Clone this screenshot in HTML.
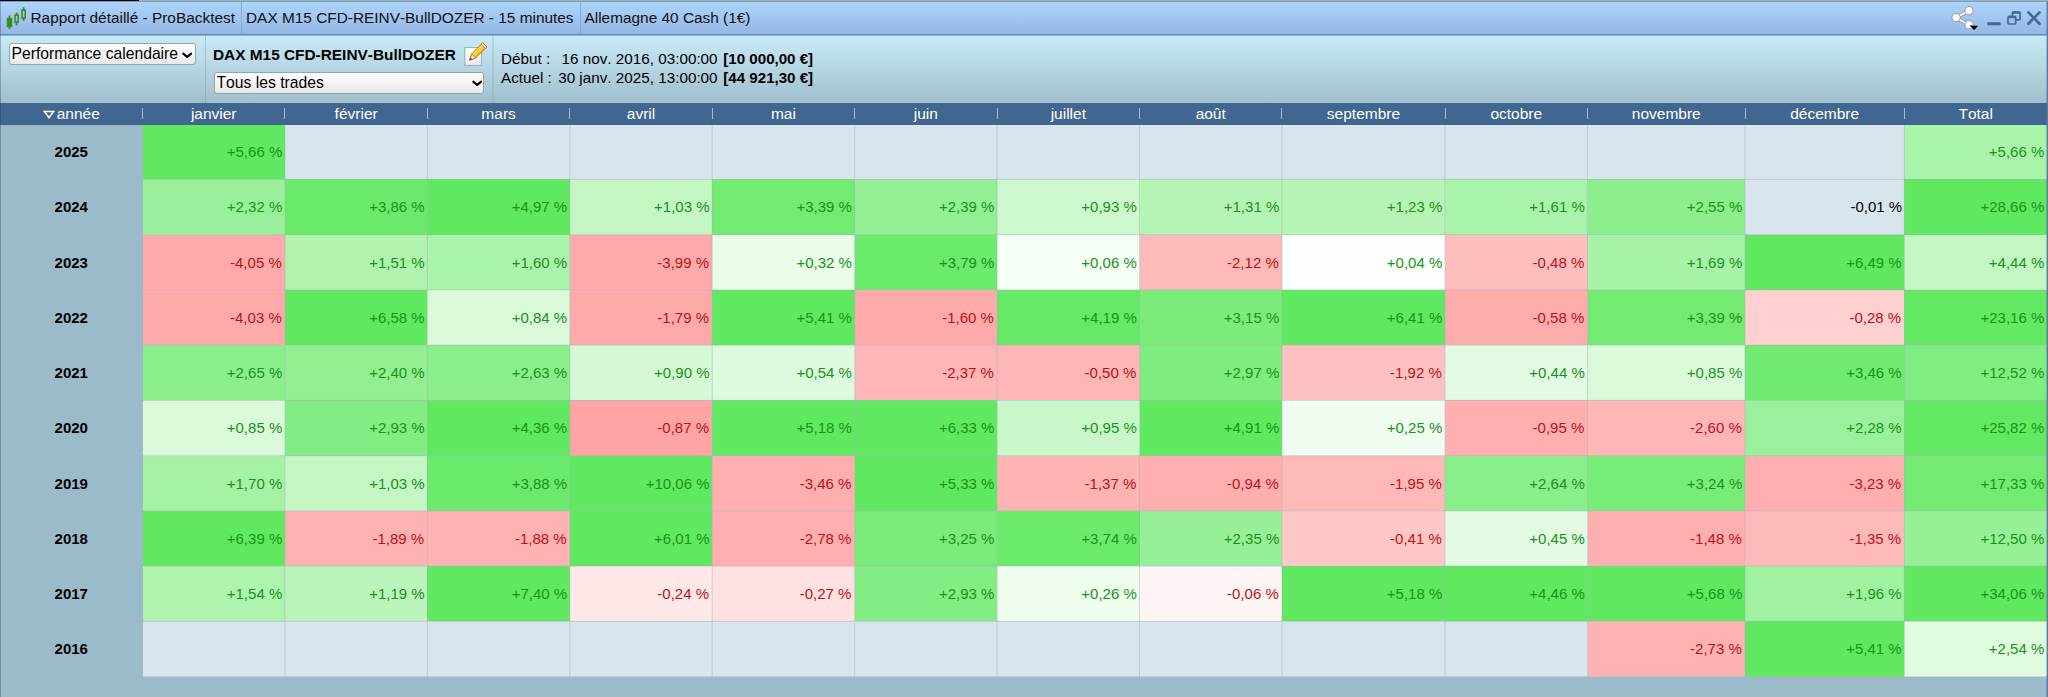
<!DOCTYPE html>
<html lang="fr">
<head>
<meta charset="utf-8">
<title>Rapport détaillé - ProBacktest</title>
<style>
html,body{margin:0;padding:0}
body{width:2048px;height:697px;overflow:hidden;position:relative;background:#9cbbca;font-family:"Liberation Sans",sans-serif;color:#000;font-kerning:none}
.abs{position:absolute}
#topl{left:0;top:0;width:2048px;height:2px;background:linear-gradient(#98b5be 0 55%,#7f9fb4 55% 100%)}
#topb{left:0;top:0;width:139px;height:2px;background:linear-gradient(#000 0 50%,#7c99b8 50% 100%)}
#title{left:0;top:2px;width:2048px;height:32px;background:linear-gradient(#aed3fb,#94b8e4);border-bottom:1px solid #6088bb}
#title .t{position:absolute;top:-1px;height:33px;line-height:34px;font-size:15.4px;white-space:nowrap;color:#101010}
#title .sep{position:absolute;top:0;width:1px;height:32px;background:#86a8d6}
#tool{left:0;top:35px;width:2048px;height:68px;background:linear-gradient(#c9ebf7,#a0bfcc);box-shadow:inset 0 1px 0 rgba(95,135,185,.5)}
#tool .sep{position:absolute;top:0;width:1px;height:68px;background:rgba(120,160,180,.45)}
select{position:absolute;box-sizing:border-box;font-family:"Liberation Sans",sans-serif;font-size:15.7px;font-kerning:none;height:22px;line-height:20px;margin:0;padding:0 0 0 1.5px;color:#000;-webkit-appearance:none;appearance:none;border:1px solid #8fa6b3;border-radius:3px;background:linear-gradient(#ffffff,#e8e8e8);outline:none}
.chev{position:absolute;pointer-events:none}
#hdr{left:0;top:102.5px;width:2048px;height:22px;background:#41668f;z-index:5}
#hdr .h{position:absolute;top:0;height:22px;line-height:21px;font-size:15.5px;color:#fff;text-align:center;white-space:nowrap}
#hdr .hs{position:absolute;top:5.5px;width:1px;height:11px;background:#a9bbd0}
.yr{position:absolute;left:0;width:142.5px;font-size:15px;font-weight:bold;text-align:center;box-sizing:border-box}
.c{position:absolute;box-sizing:border-box;font-size:15px;text-align:right;padding-right:2.3px;white-space:nowrap}
.vl,.hl{position:absolute;background:rgb(168,181,188);z-index:3}
.vl{width:1px}.hl{height:1px;left:0;width:2047px}
.p{color:#189418;padding-right:2.7px}.n{color:#bd1212;padding-right:3.2px}.z{color:#000}
#lb{left:0;top:2px;width:1px;height:695px;background:rgba(30,50,60,.3);z-index:6}
#rb{left:2046px;top:2px;width:2px;height:695px;background:linear-gradient(to right,rgba(85,115,150,.4) 0 50%,#5b7c9c 50% 100%);z-index:6}
</style>
</head>
<body>
<div class="abs" id="topl"></div><div class="abs" id="topb"></div>
<div class="abs" id="title">
<svg class="abs" style="left:5px;top:3px" width="24" height="26" viewBox="0 0 24 26">
<g fill="none" stroke="#3a8c1f" stroke-width="1.6">
<path d="M4.5 10.5v13.5" stroke-width="1.8"/><rect x="2.6" y="13.6" width="3.8" height="7.8" fill="#3a8c1f"/>
<path d="M11.6 7.5v3M11.6 17v3.2" stroke-width="1.8"/><rect x="10" y="10.2" width="3.2" height="6.8"/>
<path d="M18.6 2.2v3M18.6 12.8v3.2" stroke-width="1.8"/><rect x="17" y="5.2" width="3.2" height="7.8"/>
</g></svg>
<div class="t" style="left:30.5px">Rapport détaillé - ProBacktest</div>
<div class="sep" style="left:241px"></div>
<div class="t" style="left:246px">DAX M15 CFD-REINV-BullDOZER - 15 minutes</div>
<div class="sep" style="left:580px"></div>
<div class="t" style="left:584.5px">Allemagne 40 Cash (1€)</div>
<svg class="abs" style="left:1950px;top:2px" width="94" height="30" viewBox="0 0 94 30">
<g stroke="#8d9299" stroke-width="3.6" fill="none" stroke-linecap="round"><path d="M19 6.6L6.1 13.55L19 20.8"/></g>
<g stroke="#fff" stroke-width="2" fill="none"><path d="M19 6.6L6.1 13.55L19 20.8"/></g>
<g fill="#fff" stroke="#8d9299" stroke-width="0.9"><circle cx="19" cy="6.6" r="4.15"/><circle cx="6.1" cy="13.55" r="4.15"/><circle cx="19" cy="20.8" r="4.15"/></g>
<path d="M19.6 21.5h9l-4.5 4.7z" fill="#000" stroke="#fff" stroke-width="1" stroke-opacity=".85" stroke-linejoin="round" paint-order="stroke"/>
<g stroke="#44689b" fill="none"><path d="M38.5 19.8h10.9" stroke-width="3" stroke-linecap="round"/>
<rect x="62.4" y="8.2" width="7.7" height="7.6" rx="1" stroke-width="1.7"/><path d="M62.4 8.6h7.7" stroke-width="2.4"/>
<rect x="58" y="12.5" width="7.7" height="7.5" rx="1" stroke-width="1.7" fill="#9dc0ea"/><path d="M58 12.9h7.7" stroke-width="2.4"/>
<path d="M78.4 8.4L89.5 19.8M89.5 8.4L78.4 19.8" stroke-width="2.7" stroke-linecap="round"/></g>
</svg>
</div>
<div class="abs" id="tool">
<select style="left:9px;top:8px;width:187px"><option>Performance calendaire</option></select>
<svg class="chev" style="left:180px;top:15px" width="14" height="10" viewBox="0 0 14 10"><path d="M3.3 3.6L7.2 7.0L11.1 3.6" fill="none" stroke="#000" stroke-width="2.1" stroke-linecap="round" stroke-linejoin="round"/></svg>
<div class="sep" style="left:205px"></div>
<div class="abs" style="left:213px;top:10px;font-size:15.4px;font-weight:bold;white-space:nowrap;line-height:20px">DAX M15 CFD-REINV-BullDOZER</div>
<svg class="abs" style="left:462px;top:5px" width="28" height="28" viewBox="0 0 28 28">
<defs><linearGradient id="pg" gradientUnits="userSpaceOnUse" x1="13.2" y1="9.7" x2="17.6" y2="14.1"><stop offset="0" stop-color="#fff03a"/><stop offset=".45" stop-color="#ffd91f"/><stop offset="1" stop-color="#ffab2c"/></linearGradient>
<linearGradient id="pp" x1="0" y1="0" x2="0" y2="1"><stop offset="0" stop-color="#ffffff"/><stop offset="1" stop-color="#ececec"/></linearGradient></defs>
<rect x="2.8" y="7.6" width="16.6" height="17.8" fill="url(#pp)" stroke="#93abbb" stroke-width="1"/>
<path d="M7.6 20.2l2.2-6.4L20.8 2.8l4 4L13.8 17.8z" fill="url(#pg)" stroke="#9a6a28" stroke-width="0.9" stroke-linejoin="round"/>
<path d="M7.6 20.2l2.2-6.4 4 4z" fill="#fbe3c4" stroke="#9a6a28" stroke-width="0.7" stroke-linejoin="round"/>
<path d="M7.6 20.2l.9-2.6 1.7 1.7z" fill="#5b3a17"/>
<path d="M20.8 2.8l4 4-1.6 1.6-4-4z" fill="#ffecc8" stroke="#9a6a28" stroke-width="0.7" stroke-linejoin="round"/>
</svg>
<select style="left:214px;top:37px;width:270px"><option>Tous les trades</option></select>
<svg class="chev" style="left:469.5px;top:43px" width="14" height="10" viewBox="0 0 14 10"><path d="M3.3 3.6L7.2 7.0L11.1 3.6" fill="none" stroke="#000" stroke-width="2.1" stroke-linecap="round" stroke-linejoin="round"/></svg>
<div class="sep" style="left:492px;opacity:.55"></div><div class="sep" style="left:493px;opacity:.6"></div>
<div class="abs" style="left:501px;top:14px;font-size:15.25px;line-height:19px;white-space:nowrap">
<div><span style="display:inline-block;width:57px">Début :</span><span style="display:inline-block;width:159.6px;margin-right:1.5px;text-align:right">16 nov. 2016, 03:00:00</span> <b style="font-size:15.1px">[10 000,00 €]</b></div>
<div><span style="display:inline-block;width:57px">Actuel :</span><span style="display:inline-block;width:159.6px;margin-right:1.5px;text-align:right">30 janv. 2025, 13:00:00</span> <b style="font-size:15.1px">[44 921,30 €]</b></div>
</div>
</div>
<div class="abs" id="hdr">
<div class="h" style="left:0px;width:142.5px"><svg width="12" height="9" viewBox="0 0 12 9" style="vertical-align:0px;margin-right:2px"><path d="M1.5 1.5h9L6 7.6z" fill="none" stroke="#fff" stroke-width="1.6" stroke-linejoin="miter"/></svg>année</div>
<div class="hs" style="left:142px"></div>
<div class="h" style="left:142.5px;width:142.43px">janvier</div>
<div class="hs" style="left:284px"></div>
<div class="h" style="left:284.93px;width:142.43px">février</div>
<div class="hs" style="left:427px"></div>
<div class="h" style="left:427.36px;width:142.42999999999995px">mars</div>
<div class="hs" style="left:569px"></div>
<div class="h" style="left:569.79px;width:142.43000000000006px">avril</div>
<div class="hs" style="left:712px"></div>
<div class="h" style="left:712.22px;width:142.42999999999995px">mai</div>
<div class="hs" style="left:854px"></div>
<div class="h" style="left:854.65px;width:142.43000000000006px">juin</div>
<div class="hs" style="left:997px"></div>
<div class="h" style="left:997.08px;width:142.42999999999995px">juillet</div>
<div class="hs" style="left:1139px"></div>
<div class="h" style="left:1139.51px;width:142.43000000000006px">août</div>
<div class="hs" style="left:1281px"></div>
<div class="h" style="left:1281.94px;width:163.05999999999995px">septembre</div>
<div class="hs" style="left:1445px"></div>
<div class="h" style="left:1445.0px;width:142.5px">octobre</div>
<div class="hs" style="left:1587px"></div>
<div class="h" style="left:1587.5px;width:157.5px">novembre</div>
<div class="hs" style="left:1745px"></div>
<div class="h" style="left:1745.0px;width:159.4000000000001px">décembre</div>
<div class="hs" style="left:1904px"></div>
<div class="h" style="left:1904.4px;width:142.5999999999999px">Total</div>
</div>
<div class="yr" style="top:124.15px;height:55.25px;line-height:55.25px">2025</div>
<div class="yr" style="top:179.4px;height:55.25px;line-height:55.25px">2024</div>
<div class="yr" style="top:234.65px;height:55.25px;line-height:55.25px">2023</div>
<div class="yr" style="top:289.9px;height:55.25px;line-height:55.25px">2022</div>
<div class="yr" style="top:345.15px;height:55.25px;line-height:55.25px">2021</div>
<div class="yr" style="top:400.4px;height:55.25px;line-height:55.25px">2020</div>
<div class="yr" style="top:455.65px;height:55.25px;line-height:55.25px">2019</div>
<div class="yr" style="top:510.9px;height:55.25px;line-height:55.25px">2018</div>
<div class="yr" style="top:566.15px;height:55.25px;line-height:55.25px">2017</div>
<div class="yr" style="top:621.4px;height:55.25px;line-height:55.25px">2016</div>
<div class="c p" style="left:142.5px;top:124.15px;width:142.43px;height:55.25px;line-height:55.25px;background:#60e860">+5,66 %</div>
<div class="c " style="left:284.93px;top:124.15px;width:142.43px;height:55.25px;line-height:55.25px;background:#d8e5ed"></div>
<div class="c " style="left:427.36px;top:124.15px;width:142.43px;height:55.25px;line-height:55.25px;background:#d8e5ed"></div>
<div class="c " style="left:569.79px;top:124.15px;width:142.43px;height:55.25px;line-height:55.25px;background:#d8e5ed"></div>
<div class="c " style="left:712.22px;top:124.15px;width:142.43px;height:55.25px;line-height:55.25px;background:#d8e5ed"></div>
<div class="c " style="left:854.65px;top:124.15px;width:142.43px;height:55.25px;line-height:55.25px;background:#d8e5ed"></div>
<div class="c " style="left:997.08px;top:124.15px;width:142.43px;height:55.25px;line-height:55.25px;background:#d8e5ed"></div>
<div class="c " style="left:1139.51px;top:124.15px;width:142.43px;height:55.25px;line-height:55.25px;background:#d8e5ed"></div>
<div class="c " style="left:1281.94px;top:124.15px;width:163.06px;height:55.25px;line-height:55.25px;background:#d8e5ed"></div>
<div class="c " style="left:1445px;top:124.15px;width:142.5px;height:55.25px;line-height:55.25px;background:#d8e5ed"></div>
<div class="c " style="left:1587.5px;top:124.15px;width:157.5px;height:55.25px;line-height:55.25px;background:#d8e5ed"></div>
<div class="c " style="left:1745px;top:124.15px;width:159.4px;height:55.25px;line-height:55.25px;background:#d8e5ed"></div>
<div class="c p" style="left:1904.4px;top:124.15px;width:142.6px;height:55.25px;line-height:55.25px;background:#aaf3aa">+5,66 %</div>
<div class="c p" style="left:142.5px;top:179.4px;width:142.43px;height:55.25px;line-height:55.25px;background:#9af09a">+2,32 %</div>
<div class="c p" style="left:284.93px;top:179.4px;width:142.43px;height:55.25px;line-height:55.25px;background:#6ae96a">+3,86 %</div>
<div class="c p" style="left:427.36px;top:179.4px;width:142.43px;height:55.25px;line-height:55.25px;background:#60e860">+4,97 %</div>
<div class="c p" style="left:569.79px;top:179.4px;width:142.43px;height:55.25px;line-height:55.25px;background:#c3f6c3">+1,03 %</div>
<div class="c p" style="left:712.22px;top:179.4px;width:142.43px;height:55.25px;line-height:55.25px;background:#73eb73">+3,39 %</div>
<div class="c p" style="left:854.65px;top:179.4px;width:142.43px;height:55.25px;line-height:55.25px;background:#93ef93">+2,39 %</div>
<div class="c p" style="left:997.08px;top:179.4px;width:142.43px;height:55.25px;line-height:55.25px;background:#cdf8cd">+0,93 %</div>
<div class="c p" style="left:1139.51px;top:179.4px;width:142.43px;height:55.25px;line-height:55.25px;background:#b4f4b4">+1,31 %</div>
<div class="c p" style="left:1281.94px;top:179.4px;width:163.06px;height:55.25px;line-height:55.25px;background:#b6f4b6">+1,23 %</div>
<div class="c p" style="left:1445px;top:179.4px;width:142.5px;height:55.25px;line-height:55.25px;background:#aaf3aa">+1,61 %</div>
<div class="c p" style="left:1587.5px;top:179.4px;width:157.5px;height:55.25px;line-height:55.25px;background:#8cee8c">+2,55 %</div>
<div class="c z" style="left:1745px;top:179.4px;width:159.4px;height:55.25px;line-height:55.25px;background:#d8e5ed">-0,01 %</div>
<div class="c p" style="left:1904.4px;top:179.4px;width:142.6px;height:55.25px;line-height:55.25px;background:#60e860">+28,66 %</div>
<div class="c n" style="left:142.5px;top:234.65px;width:142.43px;height:55.25px;line-height:55.25px;background:#ffaaaa">-4,05 %</div>
<div class="c p" style="left:284.93px;top:234.65px;width:142.43px;height:55.25px;line-height:55.25px;background:#aff3af">+1,51 %</div>
<div class="c p" style="left:427.36px;top:234.65px;width:142.43px;height:55.25px;line-height:55.25px;background:#aaf3aa">+1,60 %</div>
<div class="c n" style="left:569.79px;top:234.65px;width:142.43px;height:55.25px;line-height:55.25px;background:#ffaaaa">-3,99 %</div>
<div class="c p" style="left:712.22px;top:234.65px;width:142.43px;height:55.25px;line-height:55.25px;background:#e8fce8">+0,32 %</div>
<div class="c p" style="left:854.65px;top:234.65px;width:142.43px;height:55.25px;line-height:55.25px;background:#6bea6b">+3,79 %</div>
<div class="c p" style="left:997.08px;top:234.65px;width:142.43px;height:55.25px;line-height:55.25px;background:#f5fef5">+0,06 %</div>
<div class="c n" style="left:1139.51px;top:234.65px;width:142.43px;height:55.25px;line-height:55.25px;background:#ffb9b9">-2,12 %</div>
<div class="c p" style="left:1281.94px;top:234.65px;width:163.06px;height:55.25px;line-height:55.25px;background:#fcfffc">+0,04 %</div>
<div class="c n" style="left:1445px;top:234.65px;width:142.5px;height:55.25px;line-height:55.25px;background:#ffbebe">-0,48 %</div>
<div class="c p" style="left:1587.5px;top:234.65px;width:157.5px;height:55.25px;line-height:55.25px;background:#a6f2a6">+1,69 %</div>
<div class="c p" style="left:1745px;top:234.65px;width:159.4px;height:55.25px;line-height:55.25px;background:#60e860">+6,49 %</div>
<div class="c p" style="left:1904.4px;top:234.65px;width:142.6px;height:55.25px;line-height:55.25px;background:#c3f6c3">+4,44 %</div>
<div class="c n" style="left:142.5px;top:289.9px;width:142.43px;height:55.25px;line-height:55.25px;background:#ffaaaa">-4,03 %</div>
<div class="c p" style="left:284.93px;top:289.9px;width:142.43px;height:55.25px;line-height:55.25px;background:#60e860">+6,58 %</div>
<div class="c p" style="left:427.36px;top:289.9px;width:142.43px;height:55.25px;line-height:55.25px;background:#dafada">+0,84 %</div>
<div class="c n" style="left:569.79px;top:289.9px;width:142.43px;height:55.25px;line-height:55.25px;background:#ffaaaa">-1,79 %</div>
<div class="c p" style="left:712.22px;top:289.9px;width:142.43px;height:55.25px;line-height:55.25px;background:#60e860">+5,41 %</div>
<div class="c n" style="left:854.65px;top:289.9px;width:142.43px;height:55.25px;line-height:55.25px;background:#ffaaaa">-1,60 %</div>
<div class="c p" style="left:997.08px;top:289.9px;width:142.43px;height:55.25px;line-height:55.25px;background:#66e966">+4,19 %</div>
<div class="c p" style="left:1139.51px;top:289.9px;width:142.43px;height:55.25px;line-height:55.25px;background:#7bec7b">+3,15 %</div>
<div class="c p" style="left:1281.94px;top:289.9px;width:163.06px;height:55.25px;line-height:55.25px;background:#60e860">+6,41 %</div>
<div class="c n" style="left:1445px;top:289.9px;width:142.5px;height:55.25px;line-height:55.25px;background:#ffacac">-0,58 %</div>
<div class="c p" style="left:1587.5px;top:289.9px;width:157.5px;height:55.25px;line-height:55.25px;background:#73eb73">+3,39 %</div>
<div class="c n" style="left:1745px;top:289.9px;width:159.4px;height:55.25px;line-height:55.25px;background:#ffd0d0">-0,28 %</div>
<div class="c p" style="left:1904.4px;top:289.9px;width:142.6px;height:55.25px;line-height:55.25px;background:#64e964">+23,16 %</div>
<div class="c p" style="left:142.5px;top:345.15px;width:142.43px;height:55.25px;line-height:55.25px;background:#8aee8a">+2,65 %</div>
<div class="c p" style="left:284.93px;top:345.15px;width:142.43px;height:55.25px;line-height:55.25px;background:#91ef91">+2,40 %</div>
<div class="c p" style="left:427.36px;top:345.15px;width:142.43px;height:55.25px;line-height:55.25px;background:#8aee8a">+2,63 %</div>
<div class="c p" style="left:569.79px;top:345.15px;width:142.43px;height:55.25px;line-height:55.25px;background:#d5f9d5">+0,90 %</div>
<div class="c p" style="left:712.22px;top:345.15px;width:142.43px;height:55.25px;line-height:55.25px;background:#defade">+0,54 %</div>
<div class="c n" style="left:854.65px;top:345.15px;width:142.43px;height:55.25px;line-height:55.25px;background:#ffb6b6">-2,37 %</div>
<div class="c n" style="left:997.08px;top:345.15px;width:142.43px;height:55.25px;line-height:55.25px;background:#ffb6b6">-0,50 %</div>
<div class="c p" style="left:1139.51px;top:345.15px;width:142.43px;height:55.25px;line-height:55.25px;background:#7fec7f">+2,97 %</div>
<div class="c n" style="left:1281.94px;top:345.15px;width:163.06px;height:55.25px;line-height:55.25px;background:#ffc1c1">-1,92 %</div>
<div class="c p" style="left:1445px;top:345.15px;width:142.5px;height:55.25px;line-height:55.25px;background:#e2fbe2">+0,44 %</div>
<div class="c p" style="left:1587.5px;top:345.15px;width:157.5px;height:55.25px;line-height:55.25px;background:#dafada">+0,85 %</div>
<div class="c p" style="left:1745px;top:345.15px;width:159.4px;height:55.25px;line-height:55.25px;background:#71ea71">+3,46 %</div>
<div class="c p" style="left:1904.4px;top:345.15px;width:142.6px;height:55.25px;line-height:55.25px;background:#80ed80">+12,52 %</div>
<div class="c p" style="left:142.5px;top:400.4px;width:142.43px;height:55.25px;line-height:55.25px;background:#dafada">+0,85 %</div>
<div class="c p" style="left:284.93px;top:400.4px;width:142.43px;height:55.25px;line-height:55.25px;background:#82ed82">+2,93 %</div>
<div class="c p" style="left:427.36px;top:400.4px;width:142.43px;height:55.25px;line-height:55.25px;background:#60e860">+4,36 %</div>
<div class="c n" style="left:569.79px;top:400.4px;width:142.43px;height:55.25px;line-height:55.25px;background:#fda5a5">-0,87 %</div>
<div class="c p" style="left:712.22px;top:400.4px;width:142.43px;height:55.25px;line-height:55.25px;background:#60e860">+5,18 %</div>
<div class="c p" style="left:854.65px;top:400.4px;width:142.43px;height:55.25px;line-height:55.25px;background:#60e860">+6,33 %</div>
<div class="c p" style="left:997.08px;top:400.4px;width:142.43px;height:55.25px;line-height:55.25px;background:#caf7ca">+0,95 %</div>
<div class="c p" style="left:1139.51px;top:400.4px;width:142.43px;height:55.25px;line-height:55.25px;background:#60e860">+4,91 %</div>
<div class="c p" style="left:1281.94px;top:400.4px;width:163.06px;height:55.25px;line-height:55.25px;background:#f0fdf0">+0,25 %</div>
<div class="c n" style="left:1445px;top:400.4px;width:142.5px;height:55.25px;line-height:55.25px;background:#ffafaf">-0,95 %</div>
<div class="c n" style="left:1587.5px;top:400.4px;width:157.5px;height:55.25px;line-height:55.25px;background:#ffb6b6">-2,60 %</div>
<div class="c p" style="left:1745px;top:400.4px;width:159.4px;height:55.25px;line-height:55.25px;background:#9bf19b">+2,28 %</div>
<div class="c p" style="left:1904.4px;top:400.4px;width:142.6px;height:55.25px;line-height:55.25px;background:#62e862">+25,82 %</div>
<div class="c p" style="left:142.5px;top:455.65px;width:142.43px;height:55.25px;line-height:55.25px;background:#a5f2a5">+1,70 %</div>
<div class="c p" style="left:284.93px;top:455.65px;width:142.43px;height:55.25px;line-height:55.25px;background:#c3f6c3">+1,03 %</div>
<div class="c p" style="left:427.36px;top:455.65px;width:142.43px;height:55.25px;line-height:55.25px;background:#6ae96a">+3,88 %</div>
<div class="c p" style="left:569.79px;top:455.65px;width:142.43px;height:55.25px;line-height:55.25px;background:#60e860">+10,06 %</div>
<div class="c n" style="left:712.22px;top:455.65px;width:142.43px;height:55.25px;line-height:55.25px;background:#ffafaf">-3,46 %</div>
<div class="c p" style="left:854.65px;top:455.65px;width:142.43px;height:55.25px;line-height:55.25px;background:#60e860">+5,33 %</div>
<div class="c n" style="left:997.08px;top:455.65px;width:142.43px;height:55.25px;line-height:55.25px;background:#ffb4b4">-1,37 %</div>
<div class="c n" style="left:1139.51px;top:455.65px;width:142.43px;height:55.25px;line-height:55.25px;background:#ffafaf">-0,94 %</div>
<div class="c n" style="left:1281.94px;top:455.65px;width:163.06px;height:55.25px;line-height:55.25px;background:#ffb9b9">-1,95 %</div>
<div class="c p" style="left:1445px;top:455.65px;width:142.5px;height:55.25px;line-height:55.25px;background:#8aee8a">+2,64 %</div>
<div class="c p" style="left:1587.5px;top:455.65px;width:157.5px;height:55.25px;line-height:55.25px;background:#78ec78">+3,24 %</div>
<div class="c n" style="left:1745px;top:455.65px;width:159.4px;height:55.25px;line-height:55.25px;background:#ffafaf">-3,23 %</div>
<div class="c p" style="left:1904.4px;top:455.65px;width:142.6px;height:55.25px;line-height:55.25px;background:#73eb73">+17,33 %</div>
<div class="c p" style="left:142.5px;top:510.9px;width:142.43px;height:55.25px;line-height:55.25px;background:#60e860">+6,39 %</div>
<div class="c n" style="left:284.93px;top:510.9px;width:142.43px;height:55.25px;line-height:55.25px;background:#ffb2b2">-1,89 %</div>
<div class="c n" style="left:427.36px;top:510.9px;width:142.43px;height:55.25px;line-height:55.25px;background:#ffb2b2">-1,88 %</div>
<div class="c p" style="left:569.79px;top:510.9px;width:142.43px;height:55.25px;line-height:55.25px;background:#60e860">+6,01 %</div>
<div class="c n" style="left:712.22px;top:510.9px;width:142.43px;height:55.25px;line-height:55.25px;background:#ffafaf">-2,78 %</div>
<div class="c p" style="left:854.65px;top:510.9px;width:142.43px;height:55.25px;line-height:55.25px;background:#78eb78">+3,25 %</div>
<div class="c p" style="left:997.08px;top:510.9px;width:142.43px;height:55.25px;line-height:55.25px;background:#6cea6c">+3,74 %</div>
<div class="c p" style="left:1139.51px;top:510.9px;width:142.43px;height:55.25px;line-height:55.25px;background:#97f097">+2,35 %</div>
<div class="c n" style="left:1281.94px;top:510.9px;width:163.06px;height:55.25px;line-height:55.25px;background:#ffc8c8">-0,41 %</div>
<div class="c p" style="left:1445px;top:510.9px;width:142.5px;height:55.25px;line-height:55.25px;background:#e2fbe2">+0,45 %</div>
<div class="c n" style="left:1587.5px;top:510.9px;width:157.5px;height:55.25px;line-height:55.25px;background:#ffafaf">-1,48 %</div>
<div class="c n" style="left:1745px;top:510.9px;width:159.4px;height:55.25px;line-height:55.25px;background:#ffb9b9">-1,35 %</div>
<div class="c p" style="left:1904.4px;top:510.9px;width:142.6px;height:55.25px;line-height:55.25px;background:#96f096">+12,50 %</div>
<div class="c p" style="left:142.5px;top:566.15px;width:142.43px;height:55.25px;line-height:55.25px;background:#aef3ae">+1,54 %</div>
<div class="c p" style="left:284.93px;top:566.15px;width:142.43px;height:55.25px;line-height:55.25px;background:#bcf5bc">+1,19 %</div>
<div class="c p" style="left:427.36px;top:566.15px;width:142.43px;height:55.25px;line-height:55.25px;background:#60e860">+7,40 %</div>
<div class="c n" style="left:569.79px;top:566.15px;width:142.43px;height:55.25px;line-height:55.25px;background:#ffe8e8">-0,24 %</div>
<div class="c n" style="left:712.22px;top:566.15px;width:142.43px;height:55.25px;line-height:55.25px;background:#ffe1e1">-0,27 %</div>
<div class="c p" style="left:854.65px;top:566.15px;width:142.43px;height:55.25px;line-height:55.25px;background:#82ed82">+2,93 %</div>
<div class="c p" style="left:997.08px;top:566.15px;width:142.43px;height:55.25px;line-height:55.25px;background:#eefdee">+0,26 %</div>
<div class="c n" style="left:1139.51px;top:566.15px;width:142.43px;height:55.25px;line-height:55.25px;background:#fff5f5">-0,06 %</div>
<div class="c p" style="left:1281.94px;top:566.15px;width:163.06px;height:55.25px;line-height:55.25px;background:#60e860">+5,18 %</div>
<div class="c p" style="left:1445px;top:566.15px;width:142.5px;height:55.25px;line-height:55.25px;background:#60e860">+4,46 %</div>
<div class="c p" style="left:1587.5px;top:566.15px;width:157.5px;height:55.25px;line-height:55.25px;background:#60e860">+5,68 %</div>
<div class="c p" style="left:1745px;top:566.15px;width:159.4px;height:55.25px;line-height:55.25px;background:#a0f1a0">+1,96 %</div>
<div class="c p" style="left:1904.4px;top:566.15px;width:142.6px;height:55.25px;line-height:55.25px;background:#60e860">+34,06 %</div>
<div class="c " style="left:142.5px;top:621.4px;width:142.43px;height:55.25px;line-height:55.25px;background:#d8e5ed"></div>
<div class="c " style="left:284.93px;top:621.4px;width:142.43px;height:55.25px;line-height:55.25px;background:#d8e5ed"></div>
<div class="c " style="left:427.36px;top:621.4px;width:142.43px;height:55.25px;line-height:55.25px;background:#d8e5ed"></div>
<div class="c " style="left:569.79px;top:621.4px;width:142.43px;height:55.25px;line-height:55.25px;background:#d8e5ed"></div>
<div class="c " style="left:712.22px;top:621.4px;width:142.43px;height:55.25px;line-height:55.25px;background:#d8e5ed"></div>
<div class="c " style="left:854.65px;top:621.4px;width:142.43px;height:55.25px;line-height:55.25px;background:#d8e5ed"></div>
<div class="c " style="left:997.08px;top:621.4px;width:142.43px;height:55.25px;line-height:55.25px;background:#d8e5ed"></div>
<div class="c " style="left:1139.51px;top:621.4px;width:142.43px;height:55.25px;line-height:55.25px;background:#d8e5ed"></div>
<div class="c " style="left:1281.94px;top:621.4px;width:163.06px;height:55.25px;line-height:55.25px;background:#d8e5ed"></div>
<div class="c " style="left:1445px;top:621.4px;width:142.5px;height:55.25px;line-height:55.25px;background:#d8e5ed"></div>
<div class="c n" style="left:1587.5px;top:621.4px;width:157.5px;height:55.25px;line-height:55.25px;background:#ffb2b2">-2,73 %</div>
<div class="c p" style="left:1745px;top:621.4px;width:159.4px;height:55.25px;line-height:55.25px;background:#60e860">+5,41 %</div>
<div class="c p" style="left:1904.4px;top:621.4px;width:142.6px;height:55.25px;line-height:55.25px;background:#e1fbe1">+2,54 %</div>
<div class="vl" style="left:142px;top:124px;height:553px;opacity:0.525"></div>
<div class="vl" style="left:284px;top:124px;height:553px;opacity:0.299"></div>
<div class="vl" style="left:285px;top:124px;height:553px;opacity:0.226"></div>
<div class="vl" style="left:426px;top:124px;height:553px;opacity:0.073"></div>
<div class="vl" style="left:427px;top:124px;height:553px;opacity:0.452"></div>
<div class="vl" style="left:569px;top:124px;height:553px;opacity:0.373"></div>
<div class="vl" style="left:570px;top:124px;height:553px;opacity:0.152"></div>
<div class="vl" style="left:711px;top:124px;height:553px;opacity:0.147"></div>
<div class="vl" style="left:712px;top:124px;height:553px;opacity:0.378"></div>
<div class="vl" style="left:854px;top:124px;height:553px;opacity:0.446"></div>
<div class="vl" style="left:855px;top:124px;height:553px;opacity:0.079"></div>
<div class="vl" style="left:996px;top:124px;height:553px;opacity:0.220"></div>
<div class="vl" style="left:997px;top:124px;height:553px;opacity:0.305"></div>
<div class="vl" style="left:1139px;top:124px;height:553px;opacity:0.520"></div>
<div class="vl" style="left:1281px;top:124px;height:553px;opacity:0.294"></div>
<div class="vl" style="left:1282px;top:124px;height:553px;opacity:0.231"></div>
<div class="vl" style="left:1444px;top:124px;height:553px;opacity:0.263"></div>
<div class="vl" style="left:1445px;top:124px;height:553px;opacity:0.263"></div>
<div class="vl" style="left:1587px;top:124px;height:553px;opacity:0.525"></div>
<div class="vl" style="left:1744px;top:124px;height:553px;opacity:0.263"></div>
<div class="vl" style="left:1745px;top:124px;height:553px;opacity:0.263"></div>
<div class="vl" style="left:1903px;top:124px;height:553px;opacity:0.052"></div>
<div class="vl" style="left:1904px;top:124px;height:553px;opacity:0.473"></div>
<div class="hl" style="top:178px;opacity:0.052"></div>
<div class="hl" style="top:179px;opacity:0.473"></div>
<div class="hl" style="top:234px;opacity:0.446"></div>
<div class="hl" style="top:235px;opacity:0.079"></div>
<div class="hl" style="top:289px;opacity:0.315"></div>
<div class="hl" style="top:290px;opacity:0.210"></div>
<div class="hl" style="top:344px;opacity:0.184"></div>
<div class="hl" style="top:345px;opacity:0.341"></div>
<div class="hl" style="top:399px;opacity:0.053"></div>
<div class="hl" style="top:400px;opacity:0.472"></div>
<div class="hl" style="top:455px;opacity:0.446"></div>
<div class="hl" style="top:456px;opacity:0.079"></div>
<div class="hl" style="top:510px;opacity:0.315"></div>
<div class="hl" style="top:511px;opacity:0.210"></div>
<div class="hl" style="top:565px;opacity:0.184"></div>
<div class="hl" style="top:566px;opacity:0.341"></div>
<div class="hl" style="top:620px;opacity:0.053"></div>
<div class="hl" style="top:621px;opacity:0.472"></div>
<div class="hl" style="top:676px;opacity:0.446"></div>
<div class="hl" style="top:677px;opacity:0.079"></div>
<div class="abs" id="lb"></div><div class="abs" id="rb"></div>
</body></html>
